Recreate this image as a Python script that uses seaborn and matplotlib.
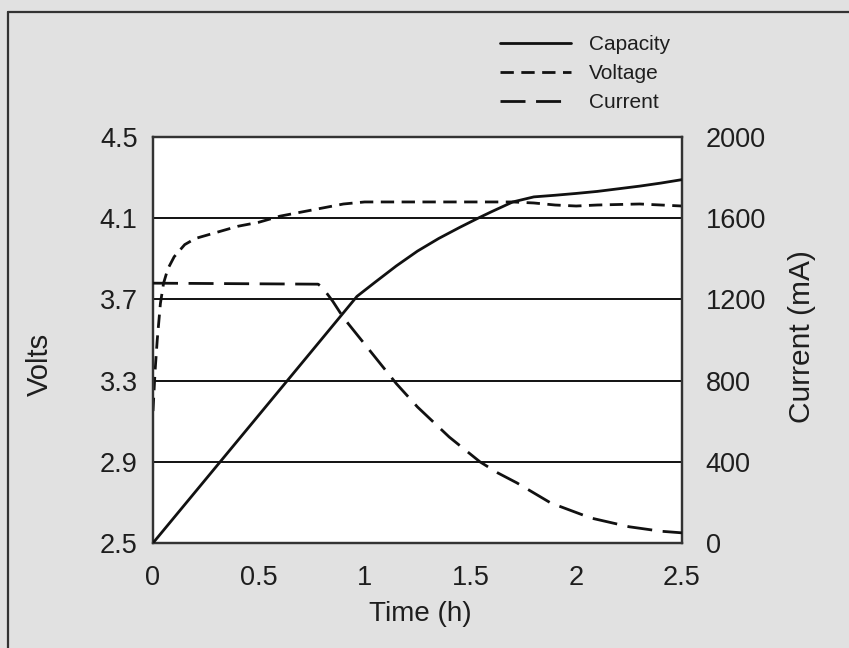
import matplotlib
matplotlib.use("Agg")
import matplotlib.pyplot as plt
import seaborn as sns
import pandas as pd
from matplotlib.lines import Line2D

# ---- data ----
time_v = [0.0, 0.01, 0.02, 0.035, 0.05, 0.07, 0.1, 0.15, 0.2, 0.3, 0.4, 0.5, 0.6, 0.7,
          0.8, 0.9, 1.0, 1.2, 1.5, 1.7, 1.8, 1.9, 2.0, 2.1, 2.3, 2.4, 2.5]
volts = [3.15, 3.35, 3.5, 3.68, 3.78, 3.85, 3.91, 3.97, 4.0, 4.03, 4.06, 4.08, 4.11, 4.13,
         4.15, 4.17, 4.18, 4.18, 4.18, 4.18, 4.175, 4.165, 4.16, 4.165, 4.17, 4.165, 4.16]

time_cap = [0.0, 0.25, 0.5, 0.75, 0.964, 1.05, 1.15, 1.25, 1.35, 1.45, 1.536, 1.6, 1.7,
            1.8, 1.9, 2.0, 2.1, 2.2, 2.3, 2.4, 2.5]
capacity = [0, 315, 630, 945, 1215, 1285, 1365, 1438, 1500, 1555, 1600, 1632, 1680,
            1705, 1713, 1722, 1732, 1745, 1758, 1773, 1790]

time_cur = [0.0, 0.78, 0.8, 0.85, 0.9, 1.0, 1.1, 1.15, 1.25, 1.4, 1.545, 1.63, 1.72, 1.88,
            2.07, 2.25, 2.4, 2.5]
current = [1280, 1275, 1260, 1190, 1110, 980, 850, 785, 670, 522, 400, 345, 296, 197,
           123, 80, 58, 50]

x_ticks = [0, 0.5, 1, 1.5, 2, 2.5]
x_tick_labels = ["0", "0.5", "1", "1.5", "2", "2.5"]
v_ticks = [2.5, 2.9, 3.3, 3.7, 4.1, 4.5]
v_tick_labels = ["2.5", "2.9", "3.3", "3.7", "4.1", "4.5"]
i_ticks = [0, 400, 800, 1200, 1600, 2000]
i_tick_labels = ["0", "400", "800", "1200", "1600", "2000"]

series_names = ["Capacity", "Voltage", "Current"]

# ---- style ----
sns.set_style("white")
plt.rcParams["font.family"] = ["Liberation Sans", "DejaVu Sans"]
TXT = "#1e1e1e"
BG = "#e1e1e1"
LINE = "#111111"
LW = 2.0

fig = plt.figure(figsize=(8.49, 6.48), dpi=100, facecolor=BG)
W, H = 849, 648
ax = fig.add_axes([153 / W, 1 - 543 / H, (682 - 153) / W, (543 - 137) / H])
ax.set_facecolor("white")
ax2 = ax.twinx()

df_v = pd.DataFrame({"t": time_v, "v": volts})
df_c = pd.DataFrame({"t": time_cap, "c": capacity})
df_i = pd.DataFrame({"t": time_cur, "i": current})

v_style = (0, (4.8, 2.7))
i_style = (0, (9.0, 3.8))

sns.lineplot(data=df_v, x="t", y="v", ax=ax, color=LINE, lw=LW, linestyle=v_style,
             zorder=5, legend=False)
sns.lineplot(data=df_c, x="t", y="c", ax=ax2, color=LINE, lw=LW, linestyle="-",
             zorder=5, legend=False)
sns.lineplot(data=df_i, x="t", y="i", ax=ax2, color=LINE, lw=LW, linestyle=i_style,
             zorder=5, legend=False)

ax.set_xlim(0, 2.5)
ax.set_ylim(2.5, 4.5)
ax2.set_ylim(0, 2000)

ax.set_xticks(x_ticks)
ax.set_xticklabels(x_tick_labels)
ax.set_yticks(v_ticks)
ax.set_yticklabels(v_tick_labels)
ax2.set_yticks(i_ticks)
ax2.set_yticklabels(i_tick_labels)

TFS = 19.5
ax.tick_params(axis="x", direction="out", length=7, width=1.4, color="#333333",
               pad=9, labelsize=TFS, labelcolor=TXT)
ax.tick_params(axis="y", length=0, pad=11, labelsize=TFS, labelcolor=TXT)
ax2.tick_params(axis="y", length=0, pad=17, labelsize=TFS, labelcolor=TXT)
for i in (0, -1):
    t = ax.xaxis.get_major_ticks()[i]
    t.tick1line.set_visible(False)

ax.grid(False)
ax2.grid(False)
for yv in v_ticks[1:-1]:
    ax.axhline(yv, color="#111111", lw=1.4, zorder=1)

for a in (ax, ax2):
    for s in a.spines.values():
        s.set_color("#333333")
        s.set_linewidth(1.6)
        s.set_visible(True)

ax.set_xlabel("Time (h)", fontsize=20, color=TXT)
ax.set_ylabel("Volts", fontsize=21, color=TXT)
ax2.set_ylabel("Current (mA)", fontsize=21.5, color=TXT)
ax.xaxis.label.set_va("center")
ax.yaxis.label.set_va("center")
ax.yaxis.label.set_ha("center")
ax2.yaxis.label.set_va("center")
ax2.yaxis.label.set_ha("center")
ax.xaxis.set_label_coords((420 - 153) / 529, (543 - 614) / 406)
ax.yaxis.set_label_coords((40 - 153) / 529, (543 - 364) / 406)
ax2.yaxis.set_label_coords((802 - 153) / 529, (543 - 337) / 406)

# legend
handles = [
    Line2D([], [], color=LINE, lw=LW, linestyle="-"),
    Line2D([], [], color=LINE, lw=LW, linestyle=v_style),
    Line2D([], [], color=LINE, lw=LW, linestyle=i_style),
]
leg = fig.legend(handles, series_names, loc="upper left",
                 bbox_to_anchor=(500 / W, 1 - 35 / H), frameon=False,
                 fontsize=15, handlelength=3.4, handletextpad=0.85,
                 labelspacing=0.48, borderpad=0, borderaxespad=0)
for t in leg.get_texts():
    t.set_color(TXT)

# figure border (left and top visible)
fig.add_artist(Line2D([7.5 / W, 7.5 / W], [0, 1 - 11.5 / H], transform=fig.transFigure,
                      color="#333333", lw=1.6))
fig.add_artist(Line2D([7.5 / W, 1], [1 - 11.5 / H, 1 - 11.5 / H], transform=fig.transFigure,
                      color="#333333", lw=1.6))

fig.savefig("out.png", dpi=100, facecolor=BG)
